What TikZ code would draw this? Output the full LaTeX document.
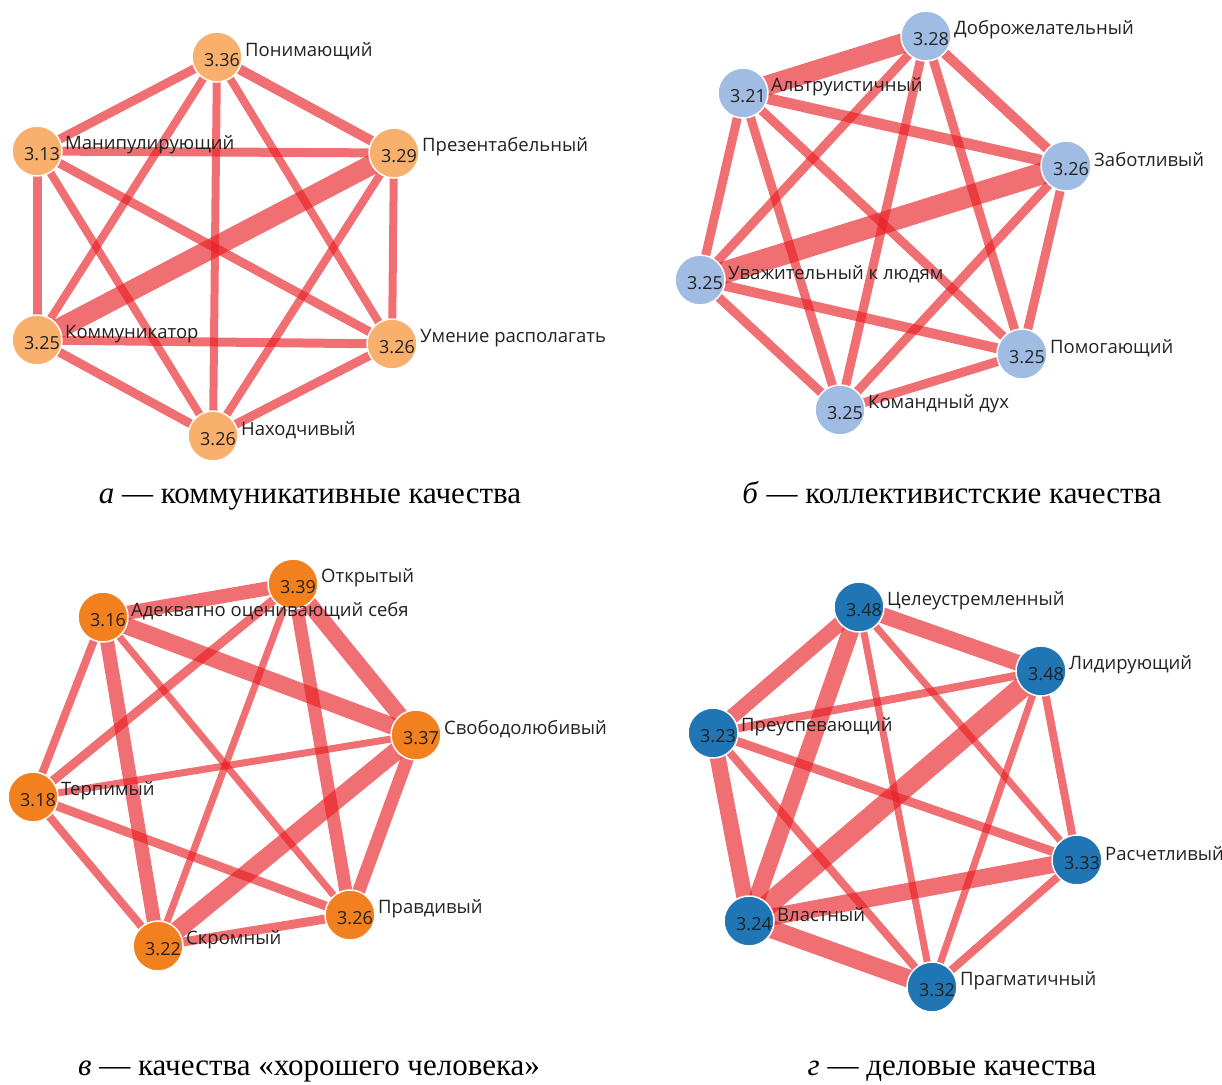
\documentclass[tikz,border=0pt]{standalone}
\usepackage{fontspec}
\setmainfont{Liberation Serif}
\newfontfamily\labfont{Open Sans}
\usepackage{tikz}
\usetikzlibrary{backgrounds}

\definecolor{edgered}{RGB}{232,30,35}
\definecolor{qa}{RGB}{248,176,108}
\definecolor{qb}{RGB}{160,188,226}
\definecolor{qc}{RGB}{242,128,30}
\definecolor{qd}{RGB}{32,118,180}
\definecolor{txt}{RGB}{34,34,34}

\tikzset{
  vert/.style={circle, draw=white, line width=1.5pt, minimum size=50pt, inner sep=0pt},
  num/.style={font=\labfont\fontsize{18}{21}\selectfont, text=txt, inner sep=0pt},
  lab/.style={font=\labfont\fontsize{18.5}{21}\selectfont, text=txt, anchor=west, inner sep=0pt},
  link/.style={draw=edgered, opacity=0.64},
  capt/.style={font=\fontsize{31}{34}\selectfont, inner sep=0pt, anchor=base}
}

\begin{document}
\begin{tikzpicture}[x=1pt, y=-1pt]
\useasboundingbox (0,0) rectangle (1222,1084);

% а -- коммуникативные качества
\foreach \n/\x/\y/\v/\t in {pon/217/57/3.36/Понимающий, man/37/151/3.13/Манипулирующий,
  prez/394/153/3.29/Презентабельный, komm/37/340/3.25/Коммуникатор,
  umen/392/344/3.26/Умение располагать, nakh/213/436/3.26/Находчивый}{
  \node[vert, fill=qa] (\n) at (\x,\y) {};
  \node[num] (\n-v) at ([shift={(5,3)}]\n) {\v};
  \node[lab] (\n-t) at ([shift={(28,-6)}]\n) {\t};
}
\begin{pgfonlayer}{background}
\foreach \u/\v/\w in {pon/man/9, pon/prez/10, pon/komm/8, pon/umen/8, pon/nakh/8,
  man/prez/9, man/komm/9, man/umen/9, man/nakh/8, prez/komm/20, prez/umen/8,
  prez/nakh/8, komm/umen/9, komm/nakh/9, umen/nakh/9}
  \draw[link, line width=\w pt] (\u.center) -- (\v.center);
\end{pgfonlayer}

% б -- коллективистские качества
\foreach \n/\x/\y/\v/\t in {dobr/926/36/3.28/Доброжелательный, altr/743/93/3.21/Альтруистичный,
  zab/1066/166/3.26/Заботливый, uvazh/700/280/3.25/Уважительный к людям,
  pomog/1022/354/3.25/Помогающий, kom/840/410/3.25/Командный дух}{
  \node[vert, fill=qb] (\n) at (\x,\y) {};
  \node[num] (\n-v) at ([shift={(5,3)}]\n) {\v};
  \node[lab] (\n-t) at ([shift={(28,-6)}]\n) {\t};
}
\begin{pgfonlayer}{background}
\foreach \u/\v/\w in {dobr/altr/20, dobr/zab/10, dobr/uvazh/9, dobr/pomog/9, dobr/kom/9,
  altr/zab/11, altr/uvazh/9, altr/pomog/9, altr/kom/9, zab/uvazh/22, zab/pomog/9,
  zab/kom/9, uvazh/pomog/10, uvazh/kom/9, pomog/kom/9}
  \draw[link, line width=\w pt] (\u.center) -- (\v.center);
\end{pgfonlayer}

% в -- качества хорошего человека
\foreach \n/\x/\y/\v/\t in {otkr/293/584/3.39/Открытый, adekv/103/617/3.16/Адекватно оценивающий себя,
  svob/416/735/3.37/Свободолюбивый, terp/33/797/3.18/Терпимый,
  pravd/350/915/3.26/Правдивый, skrom/158/946/3.22/Скромный}{
  \node[vert, fill=qc] (\n) at (\x,\y) {};
  \node[num] (\n-v) at ([shift={(5,3)}]\n) {\v};
  \node[lab] (\n-t) at ([shift={(28,-6)}]\n) {\t};
}
\begin{pgfonlayer}{background}
\foreach \u/\v/\w in {otkr/adekv/14, adekv/svob/17, otkr/svob/16, adekv/skrom/14,
  otkr/pravd/13, svob/skrom/18, svob/pravd/13, terp/adekv/8, terp/otkr/9, terp/svob/7,
  terp/pravd/9, terp/skrom/8, adekv/pravd/7, otkr/skrom/7, skrom/pravd/9}
  \draw[link, line width=\w pt] (\u.center) -- (\v.center);
\end{pgfonlayer}

% г -- деловые качества
\foreach \n/\x/\y/\v/\t in {tsel/859/607/3.48/Целеустремленный, lid/1041/671/3.48/Лидирующий,
  preusp/713/733/3.23/Преуспевающий, rasch/1077/860/3.33/Расчетливый,
  vlast/749/921/3.24/Властный, pragm/932/987/3.32/Прагматичный}{
  \node[vert, fill=qd] (\n) at (\x,\y) {};
  \node[num] (\n-v) at ([shift={(5,3)}]\n) {\v};
  \node[lab] (\n-t) at ([shift={(28,-6)}]\n) {\t};
}
\begin{pgfonlayer}{background}
\foreach \u/\v/\w in {tsel/lid/16, tsel/preusp/15, tsel/vlast/17, preusp/vlast/16,
  lid/vlast/21, vlast/rasch/17, vlast/pragm/18, preusp/lid/8, preusp/rasch/9,
  preusp/pragm/8, tsel/rasch/7, tsel/pragm/7, lid/rasch/8, lid/pragm/7, rasch/pragm/8}
  \draw[link, line width=\w pt] (\u.center) -- (\v.center);
\end{pgfonlayer}

% подписи
\node[capt] (capa) at (310,503) {\textit{а} — коммуникативные качества};
\node[capt] (capb) at (952,503) {\textit{б} — коллективистские качества};
\node[capt] (capc) at (309,1075) {\textit{в} — качества «хорошего человека»};
\node[capt] (capd) at (952,1075) {\textit{г} — деловые качества};

\end{tikzpicture}
\end{document}
